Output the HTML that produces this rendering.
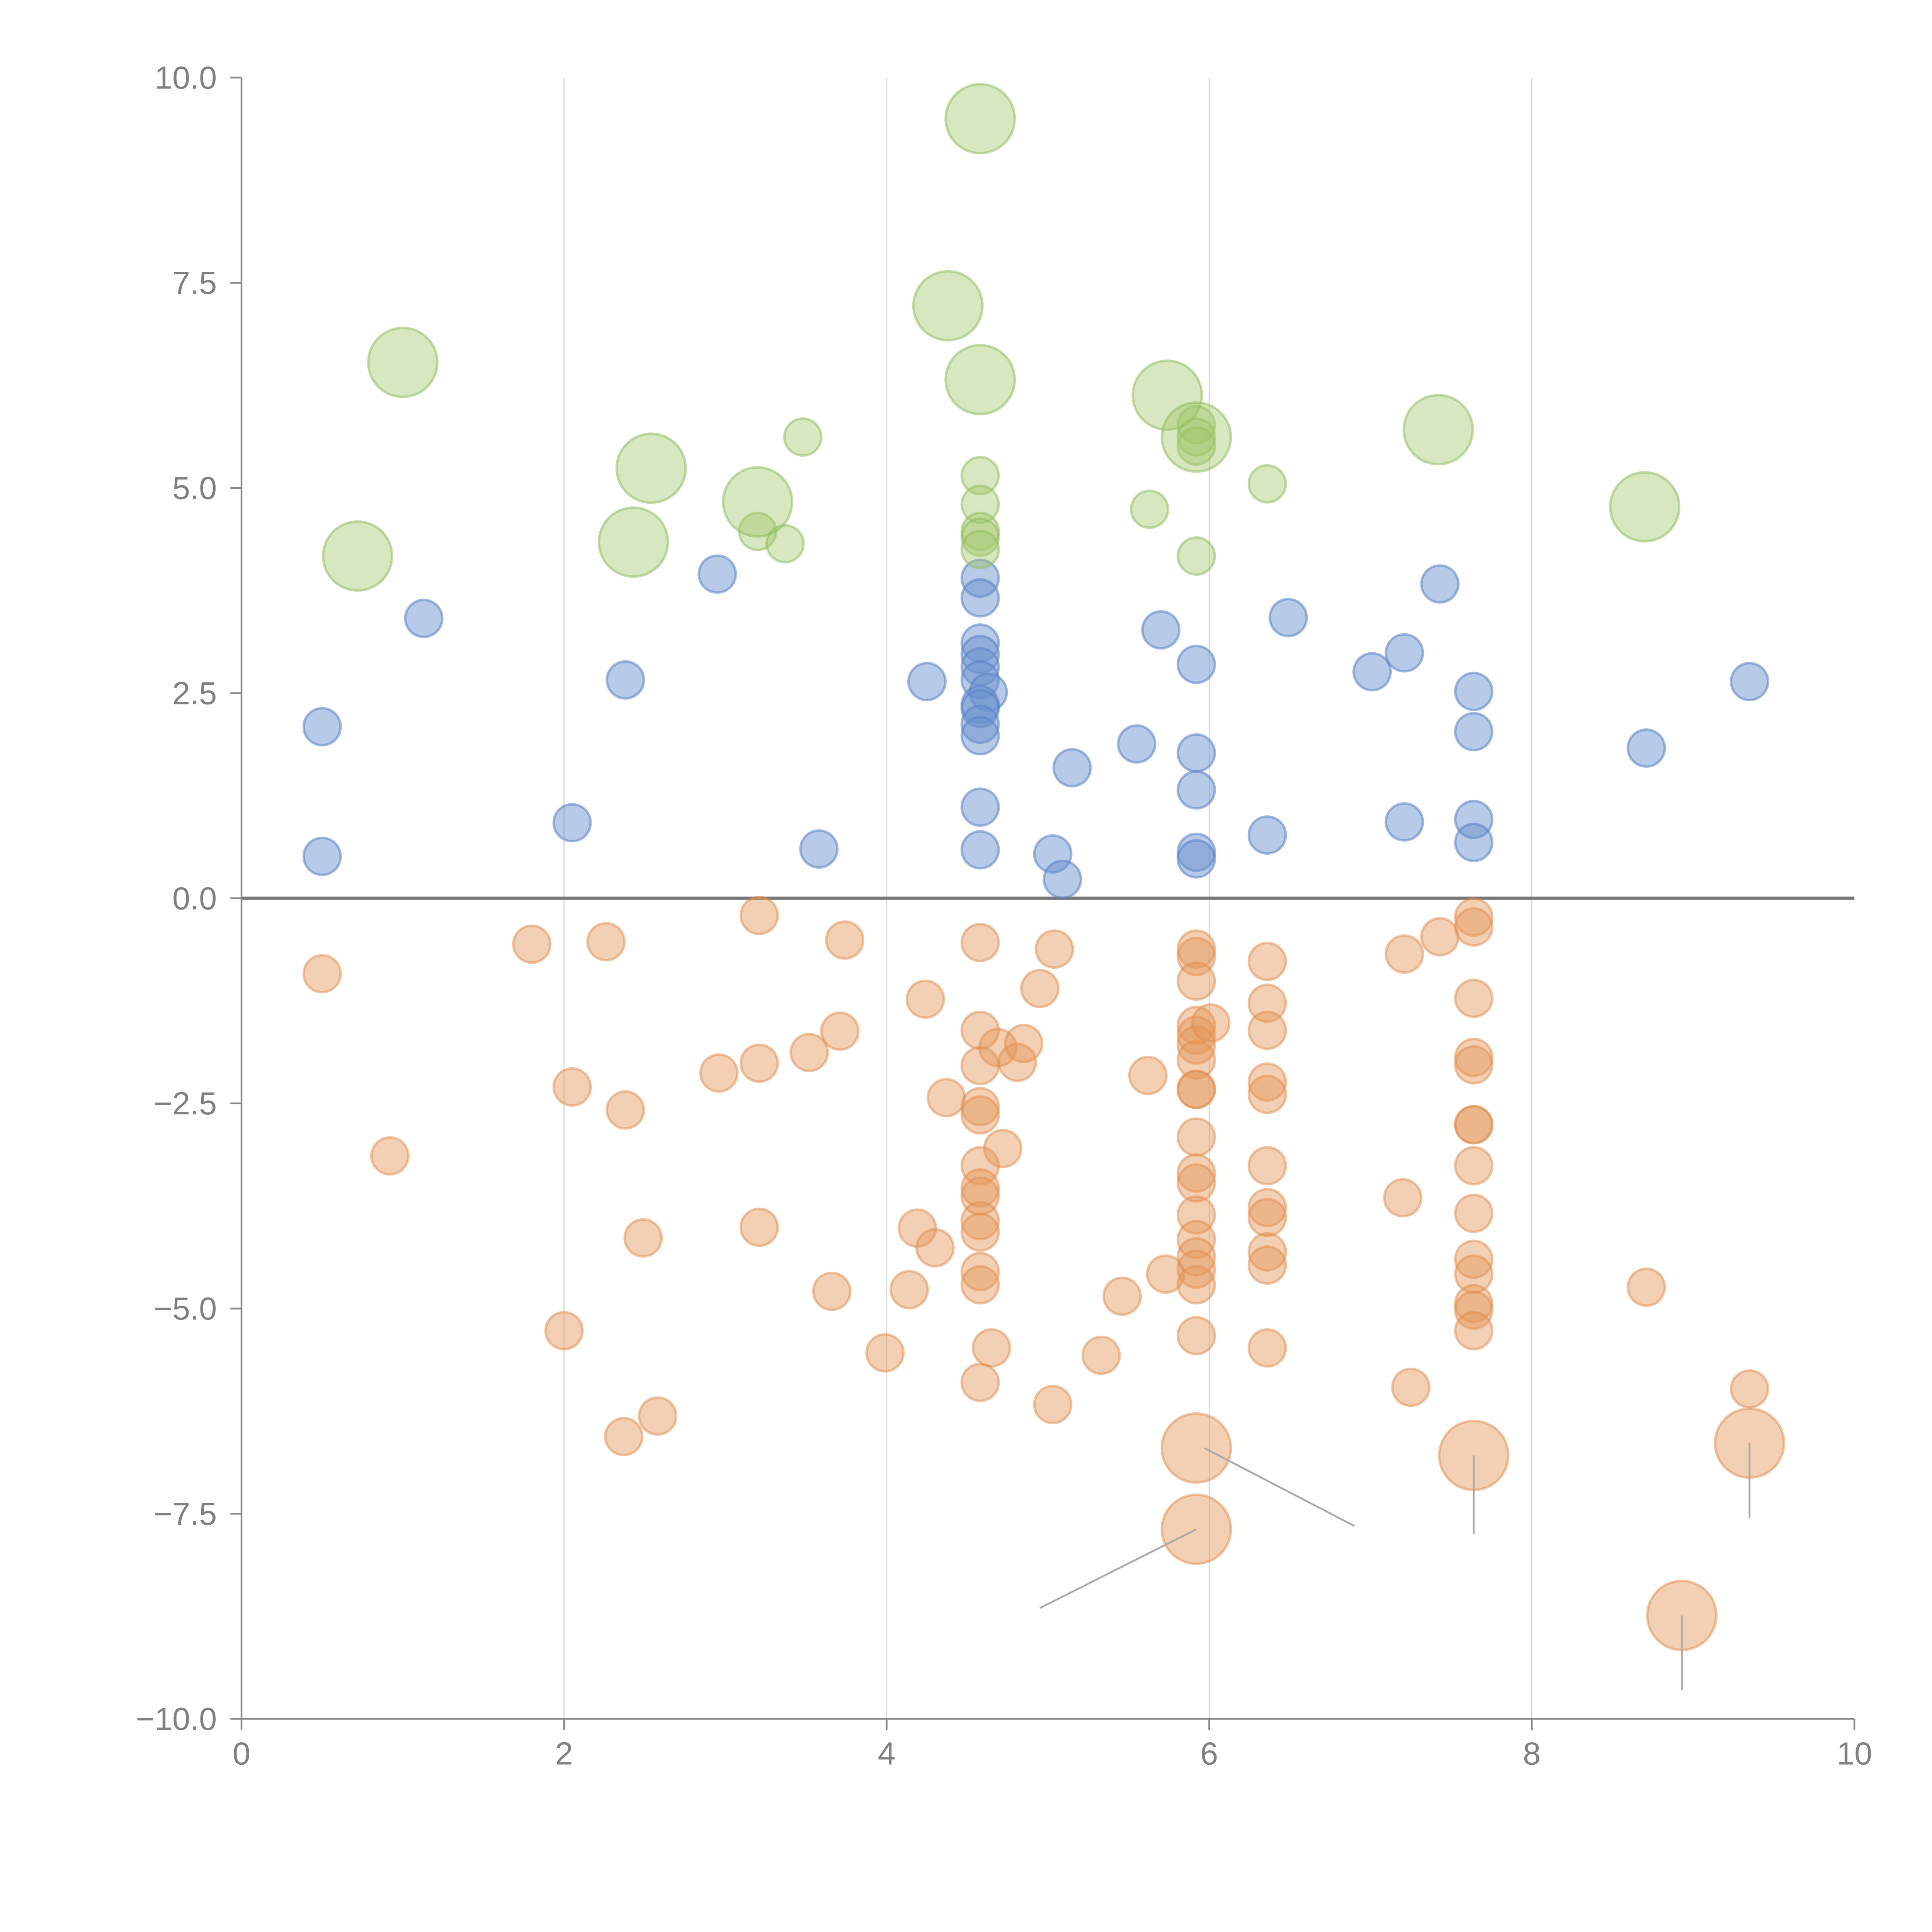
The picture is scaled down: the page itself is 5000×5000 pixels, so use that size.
<!DOCTYPE html>
<html><head><meta charset="utf-8"><style>html,body{margin:0;padding:0;background:#fff}svg{display:block}</style></head>
<body>
<svg id="chart" width="5000" height="5000" viewBox="0 0 1568 1568" xmlns="http://www.w3.org/2000/svg" font-family="Liberation Sans, sans-serif"></svg>
<script>
const xTicks=[0,2,4,6,8,10];
const yTicks=[-10,-7.5,-5,-2.5,0,2.5,5,7.5,10];
const yTickLabels=["\u221210.0","\u22127.5","\u22125.0","\u22122.5","0.0","2.5","5.0","7.5","10.0"];
const greenBigX=[1.00,0.72,2.54,2.43,3.20,4.38,4.58,4.58,5.74,5.92,7.42,8.70];
const greenBigY=[6.53,4.17,5.24,4.34,4.83,7.22,9.50,6.32,6.13,5.62,5.71,4.77];
const greenX=[3.48,3.20,3.37,4.58,4.58,4.58,4.58,4.58,5.63,5.92,5.92,5.92,5.92,6.36];
const greenY=[5.62,4.47,4.32,5.15,4.80,4.47,4.40,4.25,4.74,5.77,5.62,5.51,4.17,5.05];
const blueX=[0.50,0.50,1.13,2.05,2.38,2.95,3.58,4.25,4.58,4.58,4.58,4.58,4.58,4.58,4.63,4.58,4.58,4.58,4.58,4.58,4.58,5.03,5.09,5.15,5.55,5.70,5.92,5.92,5.92,5.92,5.92,6.36,6.49,7.01,7.21,7.21,7.43,7.64,7.64,7.64,7.64,8.71,9.35];
const blueY=[2.09,0.51,3.41,0.92,2.66,3.95,0.60,2.64,3.90,3.66,3.11,2.97,2.82,2.66,2.51,2.36,2.31,2.12,1.98,1.11,0.59,0.54,0.23,1.59,1.88,3.27,2.85,1.77,1.32,0.56,0.48,0.77,3.42,2.76,2.99,0.93,3.83,2.52,2.03,0.96,0.68,1.83,2.64];
const orangeX=[0.50,0.92,1.80,2.05,2.00,2.26,2.38,2.49,2.37,2.58,2.96,3.21,3.21,3.21,3.52,3.66,3.71,3.74,3.99,4.14,4.19,4.24,4.30,4.37,4.58,4.58,4.58,4.58,4.58,4.58,4.58,4.58,4.58,4.58,4.58,4.58,4.58,4.65,4.69,4.72,4.81,4.85,4.95,5.04,5.03,5.33,5.46,5.62,5.73,5.92,5.92,5.92,5.92,5.92,5.92,5.92,5.92,5.92,5.92,5.92,5.92,5.92,5.92,5.92,5.92,5.92,5.92,6.01,6.36,6.36,6.36,6.36,6.36,6.36,6.36,6.36,6.36,6.36,6.36,7.20,7.21,7.25,7.43,7.64,7.64,7.64,7.64,7.64,7.64,7.64,7.64,7.64,7.64,7.64,7.64,7.64,7.64,8.71,9.35];
const orangeY=[-0.92,-3.14,-0.56,-2.30,-5.27,-0.53,-2.58,-4.14,-6.56,-6.31,-2.13,-2.01,-0.21,-4.01,-1.88,-4.79,-1.62,-0.51,-5.54,-4.77,-4.02,-1.23,-4.26,-2.43,-0.54,-1.61,-2.04,-2.54,-2.64,-3.26,-3.53,-3.63,-3.93,-4.07,-4.55,-4.71,-5.90,-5.48,-1.82,-3.05,-2.00,-1.77,-1.10,-0.62,-6.17,-5.57,-4.85,-2.16,-4.58,-0.62,-0.71,-1.01,-1.55,-1.67,-1.79,-1.97,-2.33,-2.33,-2.91,-3.35,-3.47,-3.86,-4.16,-4.37,-4.52,-4.71,-5.33,-1.52,-0.77,-1.28,-1.61,-2.24,-2.39,-3.26,-3.77,-3.89,-4.31,-4.47,-5.48,-3.65,-0.68,-5.96,-0.47,-0.23,-0.35,-1.22,-1.94,-2.03,-2.76,-2.76,-3.26,-3.84,-4.40,-4.58,-4.94,-5.02,-5.27,-4.74,-5.98];
const orangeBigX=[5.92,5.92,7.64,8.93,9.35];
const orangeBigY=[-6.70,-7.69,-6.79,-8.74,-6.64];

const svg=document.getElementById('chart');
const NS='http://www.w3.org/2000/svg';
const X0=196,X1=1505,Y0=63,Y1=1395;
function sx(v){return X0+(v-0)/(10-0)*(X1-X0);}
function sy(v){return Y1-(v+10)/20*(Y1-Y0);}
function mk(tag,attrs){const e=document.createElementNS(NS,tag);for(const k in attrs)e.setAttribute(k,attrs[k]);svg.appendChild(e);return e;}

xTicks.forEach(t=>{ if(t>0&&t<10){ const g=mk('line',{x1:sx(t),x2:sx(t),y1:Y0,y2:Y1,stroke:'#dcdcdc','stroke-width':1});

}});
const ya=mk('line',{x1:X0,x2:X0,y1:Y0,y2:Y1,stroke:'#888','stroke-width':1.4});


const xa=mk('line',{x1:X0,x2:X1,y1:Y1,y2:Y1,stroke:'#888','stroke-width':1.4});


yTicks.forEach((t,i)=>{
  const tk=mk('line',{x1:X0-9,x2:X0,y1:sy(t),y2:sy(t),stroke:'#888','stroke-width':1.4});
  
  
  const tx=mk('text',{x:176,y:sy(t)+9,'text-anchor':'end','font-size':26,fill:'#808080'});
  tx.textContent=yTickLabels[i];
  
  
});
xTicks.forEach(t=>{
  const tk=mk('line',{x1:sx(t),x2:sx(t),y1:Y1,y2:Y1+9,stroke:'#888','stroke-width':1.4});
  
  
  const tx=mk('text',{x:sx(t),y:Y1+37,'text-anchor':'middle','font-size':26,fill:'#808080'});
  tx.textContent=String(t);
  
  
});
const zl=mk('line',{x1:X0,x2:X1,y1:sy(0),y2:sy(0),stroke:'#777','stroke-width':2.6});



function dots(xs,ys,r,fill,stroke,name){
  xs.forEach((x,i)=>{
    const c=mk('circle',{cx:sx(x),cy:sy(ys[i]),r:r,fill:fill,stroke:stroke,'stroke-width':2});
    
    
  });
}
const gF='rgba(160,198,105,0.42)',gS='rgba(140,185,85,0.5)';
const bF='rgba(105,145,205,0.48)',bS='rgba(90,130,200,0.55)';
const oF='rgba(228,150,88,0.45)',oS='rgba(225,140,75,0.5)';
dots(blueX,blueY,15,bF,bS,'blue-point');
dots(orangeX,orangeY,15,oF,oS,'orange-point');
dots(greenX,greenY,15,gF,gS,'green-point');
dots(greenBigX,greenBigY,28,gF,gS,'green-big-point');
dots(orangeBigX,orangeBigY,28,oF,oS,'orange-big-point');

const leaders=[[0,0.05,6.9,-7.65],[1,0.0,4.95,-8.65],[2,0,7.64,-7.75],[3,0,8.93,-9.65],[4,0,9.35,-7.55]];
leaders.forEach(l=>{
  const i=l[0];
  const ln=mk('line',{x1:sx(orangeBigX[i]+l[1]),y1:sy(orangeBigY[i]),x2:sx(l[2]),y2:sy(l[3]),stroke:'#aaa','stroke-width':1.5});
  
  
});
</script>
</body></html>
